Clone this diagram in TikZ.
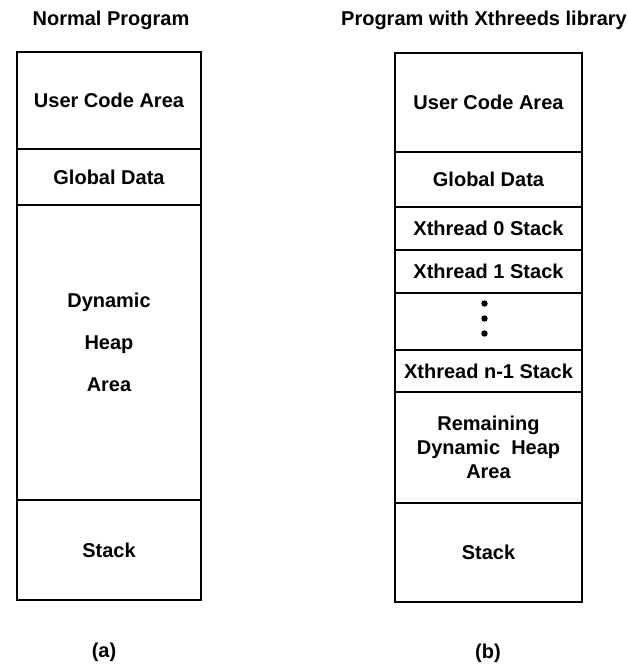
\documentclass[tikz,border=0pt]{standalone}
\usepackage{fontspec}
\setmainfont{Liberation Sans}
\usetikzlibrary{positioning}

\begin{document}
\begin{tikzpicture}[x=1pt, y=-1pt,
    txt/.style={font=\bfseries\fontsize{20}{24}\selectfont},
    cell/.style={txt, draw, line width=2.8pt, inner sep=0pt, outer sep=0pt, align=center},
    lcell/.style={cell, minimum width=184pt},
    rcell/.style={cell, minimum width=187pt}]
    \useasboundingbox (0,0) rectangle (628,664);

    % (a) normal program
    \node[txt] (ttla) at (111,20) {Normal Program};
    \node[lcell, minimum height=97pt] (luser) at (109,100.5) {User Code Area};
    \node[lcell, minimum height=56pt, below=0pt of luser] (lglobal) {Global Data};
    \node[lcell, minimum height=295pt, text depth=20pt, below=0pt of lglobal] (lheap) {Dynamic\\[18pt]Heap\\[18pt]Area};
    \node[lcell, minimum height=100pt, below=0pt of lheap] (lstack) {Stack};
    \node[txt] (capa) at (104,652) {(a)};

    % (b) program with the Xthreads library
    \node[txt] (ttlb) at (484,20) {Program with Xthreeds library};
    \node[rcell, minimum height=99pt] (ruser) at (488.5,102.5) {User Code Area};
    \node[rcell, minimum height=55pt, below=0pt of ruser] (rglobal) {Global Data};
    \node[rcell, minimum height=43pt, below=0pt of rglobal] (rx0) {Xthread 0 Stack};
    \node[rcell, minimum height=43pt, below=0pt of rx0] (rx1) {Xthread 1 Stack};
    \node[rcell, minimum height=57pt, below=0pt of rx1] (rdots) {};
    \node[rcell, minimum height=42pt, below=0pt of rdots] (rxn) {Xthread n-1 Stack};
    \node[rcell, minimum height=111pt, below=0pt of rxn] (rheap) {Remaining\\Dynamic~~Heap\\Area};
    \node[rcell, minimum height=99pt, below=0pt of rheap] (rstack) {Stack};
    \node[txt] (capb) at (488,653) {(b)};

    % vertical dots
    \foreach \dy in {18,3,-12} {
        \fill ([xshift=-4pt, yshift=\dy pt]rdots.center) circle (3.2pt);
    }
\end{tikzpicture}
\end{document}
